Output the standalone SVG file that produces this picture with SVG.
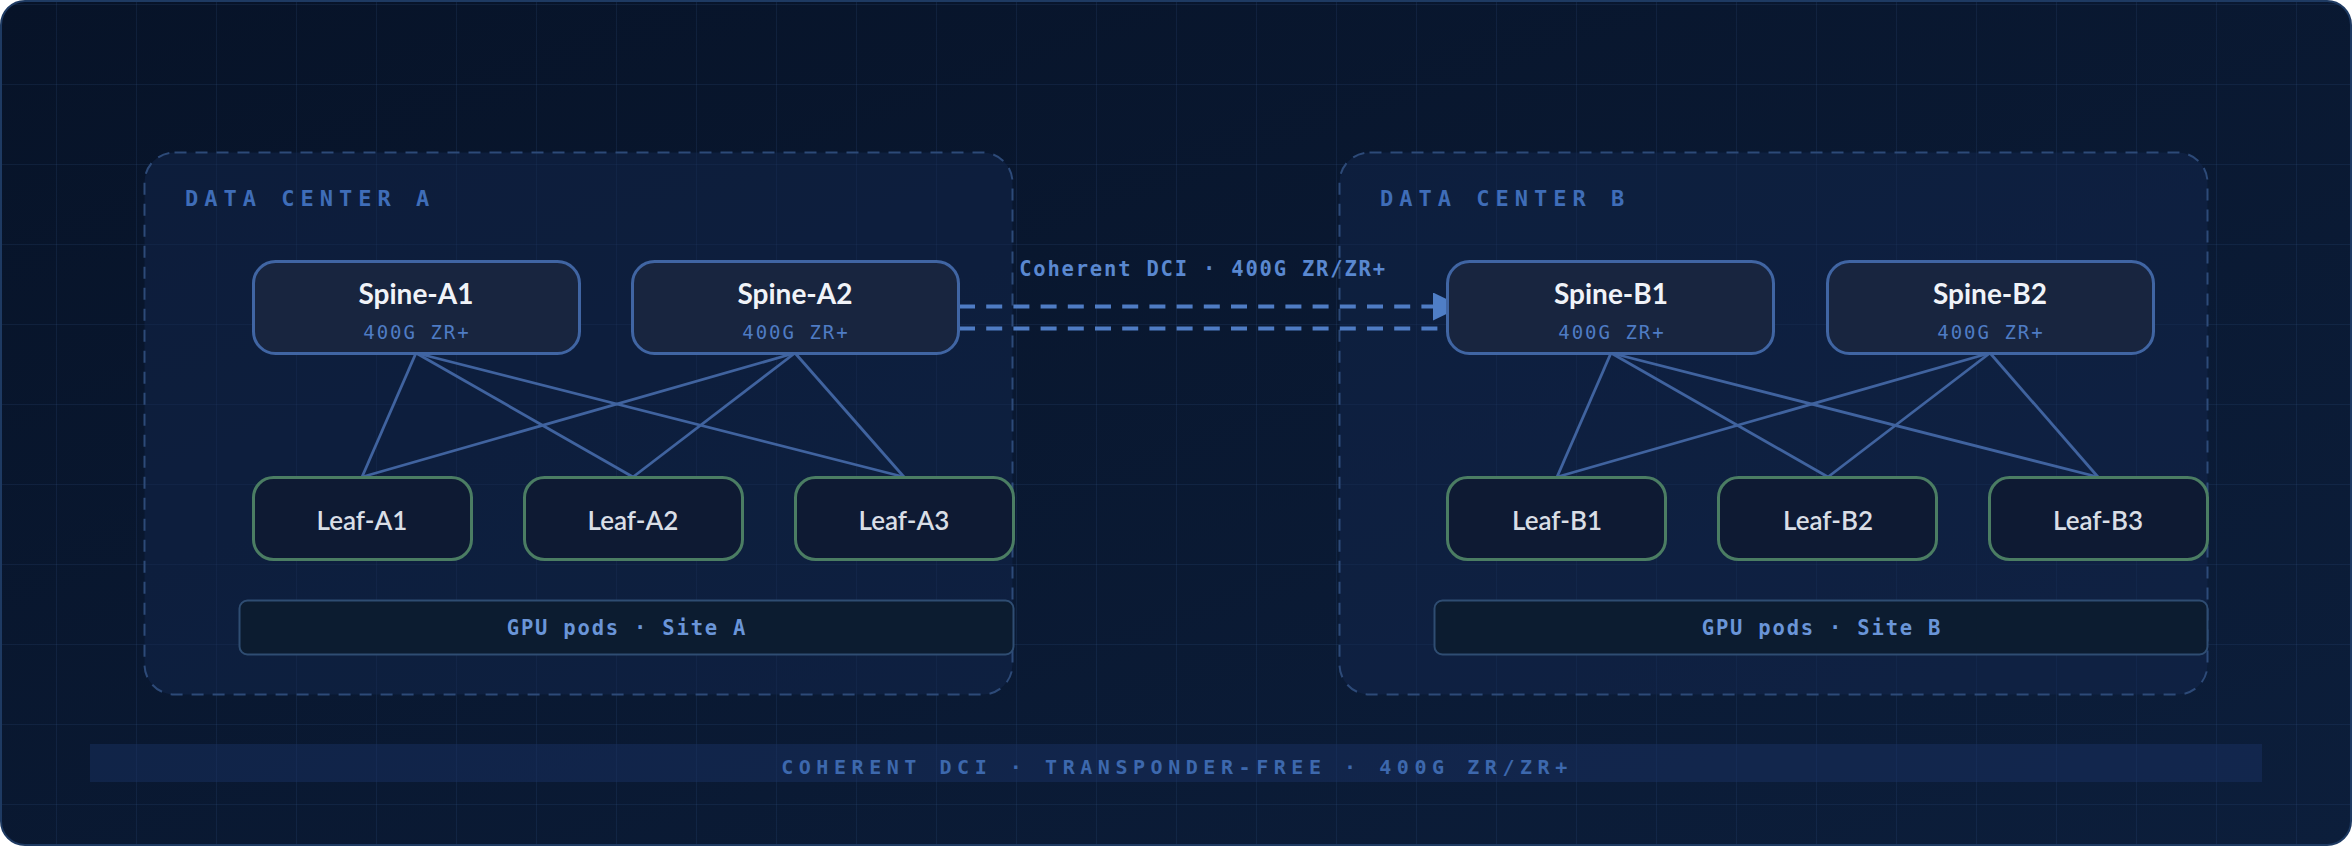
<svg xmlns="http://www.w3.org/2000/svg" width="2352" height="846" viewBox="0 0 2352 846">
  <defs>
    <linearGradient id="bg" x1="0" y1="0" x2="1" y2="1">
      <stop offset="0" stop-color="#071328"/>
      <stop offset="1" stop-color="#0c1e3b"/>
    </linearGradient>
    <pattern id="grid" patternUnits="userSpaceOnUse" x="56" y="4" width="80" height="80">
      <path d="M0.5 0 V80 M0 0.5 H80" fill="none" stroke="#3a5f96" stroke-opacity="0.16" stroke-width="1"/>
    </pattern>
    <marker id="arrow" markerUnits="userSpaceOnUse" markerWidth="30" markerHeight="30" refX="14" refY="14" orient="auto">
      <path d="M0 0 L29 14 L0 28 Z" fill="#4f7ec6"/>
    </marker>
    <style>
      .dc { fill: #14294f; fill-opacity: 0.45; stroke: #2d4a78; stroke-width: 2; stroke-dasharray: 12 9; }
      .dclabel { font-family: "DejaVu Sans Mono", "Liberation Mono", monospace; font-weight: bold; font-size: 22px; letter-spacing: 6px; fill: #3f6db8; }
      .spine rect { fill: #18253f; stroke: #4065a3; stroke-width: 3; }
      .leaf rect { fill: #0e1a33; stroke: #4b7d63; stroke-width: 3; }
      .title { font-family: Lato, "Liberation Sans", sans-serif; font-weight: bold; font-size: 28px; fill: #f0f3f8; text-anchor: middle; }
      .ltitle { font-family: Lato, "Liberation Sans", sans-serif; font-weight: 600; font-size: 26px; fill: #d9dee6; text-anchor: middle; }
      .sub { font-family: "DejaVu Sans Mono", "Liberation Mono", monospace; font-size: 19px; letter-spacing: 2px; fill: #4f7cc4; text-anchor: middle; }
      .gpu rect { fill: #0c1c30; stroke: #2f4d72; stroke-width: 2; }
      .gpu text { font-family: "DejaVu Sans Mono", "Liberation Mono", monospace; font-weight: bold; font-size: 20.5px; letter-spacing: 1.8px; fill: #6a95d8; text-anchor: middle; }
      .mesh line { stroke: #40639f; stroke-width: 2.8; }
      .dci { stroke: #4f7cc4; stroke-width: 4; stroke-dasharray: 16 11.2; fill: none; }
      .dcilabel { font-family: "DejaVu Sans Mono", "Liberation Mono", monospace; font-weight: bold; font-size: 20.5px; letter-spacing: 1.8px; fill: #5a88d0; text-anchor: middle; }
      .banner { font-family: "DejaVu Sans Mono", "Liberation Mono", monospace; font-weight: bold; font-size: 20px; letter-spacing: 5.55px; fill: #3d68ad; text-anchor: middle; }
    </style>
  </defs>

  <rect x="1" y="1" width="2350" height="844" rx="24" fill="url(#bg)"/>
  <rect x="1" y="1" width="2350" height="844" rx="24" fill="url(#grid)"/>
  <rect x="1" y="1" width="2350" height="844" rx="24" fill="none" stroke="#1e3a62" stroke-width="2"/>

  <g id="dc-a">
    <rect class="dc" x="144.5" y="152.5" width="868" height="542" rx="30"/>
    <text class="dclabel" x="185" y="206">DATA CENTER A</text>
  </g>
  <g id="dc-b">
    <rect class="dc" x="1339.5" y="152.5" width="868" height="542" rx="30"/>
    <text class="dclabel" x="1380" y="206">DATA CENTER B</text>
  </g>

  <g id="connectors">
    <g class="mesh">
      <line x1="416" y1="353" x2="362" y2="477"/>
      <line x1="416" y1="353" x2="633" y2="477"/>
      <line x1="416" y1="353" x2="904" y2="477"/>
      <line x1="795" y1="353" x2="362" y2="477"/>
      <line x1="795" y1="353" x2="633" y2="477"/>
      <line x1="795" y1="353" x2="904" y2="477"/>
      <line x1="1611" y1="353" x2="1557" y2="477"/>
      <line x1="1611" y1="353" x2="1828" y2="477"/>
      <line x1="1611" y1="353" x2="2098" y2="477"/>
      <line x1="1990" y1="353" x2="1557" y2="477"/>
      <line x1="1990" y1="353" x2="1828" y2="477"/>
      <line x1="1990" y1="353" x2="2098" y2="477"/>
    </g>
    <line class="dci" x1="959" y1="306.5" x2="1447" y2="306.5" marker-end="url(#arrow)"/>
    <line class="dci" x1="959" y1="328.5" x2="1447" y2="328.5"/>
    <text class="dcilabel" x="1203" y="276">Coherent DCI · 400G ZR/ZR+</text>
  </g>

  <g id="spine-a1" class="spine">
    <rect x="253.5" y="261.5" width="326" height="92" rx="22"/>
    <text class="title" x="416" y="304">Spine-A1</text>
    <text class="sub" x="417" y="339">400G ZR+</text>
  </g>
  <g id="spine-a2" class="spine">
    <rect x="632.5" y="261.5" width="326" height="92" rx="22"/>
    <text class="title" x="795" y="304">Spine-A2</text>
    <text class="sub" x="796" y="339">400G ZR+</text>
  </g>
  <g id="spine-b1" class="spine">
    <rect x="1447.5" y="261.5" width="326" height="92" rx="22"/>
    <text class="title" x="1611" y="304">Spine-B1</text>
    <text class="sub" x="1612" y="339">400G ZR+</text>
  </g>
  <g id="spine-b2" class="spine">
    <rect x="1827.5" y="261.5" width="326" height="92" rx="22"/>
    <text class="title" x="1990" y="304">Spine-B2</text>
    <text class="sub" x="1991" y="339">400G ZR+</text>
  </g>

  <g id="leaf-a1" class="leaf">
    <rect x="253.5" y="477.5" width="218" height="82" rx="20"/>
    <text class="ltitle" x="362" y="530">Leaf-A1</text>
  </g>
  <g id="leaf-a2" class="leaf">
    <rect x="524.5" y="477.5" width="218" height="82" rx="20"/>
    <text class="ltitle" x="633" y="530">Leaf-A2</text>
  </g>
  <g id="leaf-a3" class="leaf">
    <rect x="795.5" y="477.5" width="218" height="82" rx="20"/>
    <text class="ltitle" x="904" y="530">Leaf-A3</text>
  </g>
  <g id="leaf-b1" class="leaf">
    <rect x="1447.5" y="477.5" width="218" height="82" rx="20"/>
    <text class="ltitle" x="1557" y="530">Leaf-B1</text>
  </g>
  <g id="leaf-b2" class="leaf">
    <rect x="1718.5" y="477.5" width="218" height="82" rx="20"/>
    <text class="ltitle" x="1828" y="530">Leaf-B2</text>
  </g>
  <g id="leaf-b3" class="leaf">
    <rect x="1989.5" y="477.5" width="218" height="82" rx="20"/>
    <text class="ltitle" x="2098" y="530">Leaf-B3</text>
  </g>

  <g id="gpu-a" class="gpu">
    <rect x="239.5" y="600.5" width="774" height="54" rx="8"/>
    <text x="627" y="635">GPU pods · Site A</text>
  </g>
  <g id="gpu-b" class="gpu">
    <rect x="1434.5" y="600.5" width="773" height="54" rx="8"/>
    <text x="1822" y="635">GPU pods · Site B</text>
  </g>

  <g id="footer">
    <rect x="90" y="744" width="2172" height="38" fill="#1a3366" fill-opacity="0.45"/>
    <text class="banner" x="1177" y="774">COHERENT DCI · TRANSPONDER-FREE · 400G ZR/ZR+</text>
  </g>
</svg>
